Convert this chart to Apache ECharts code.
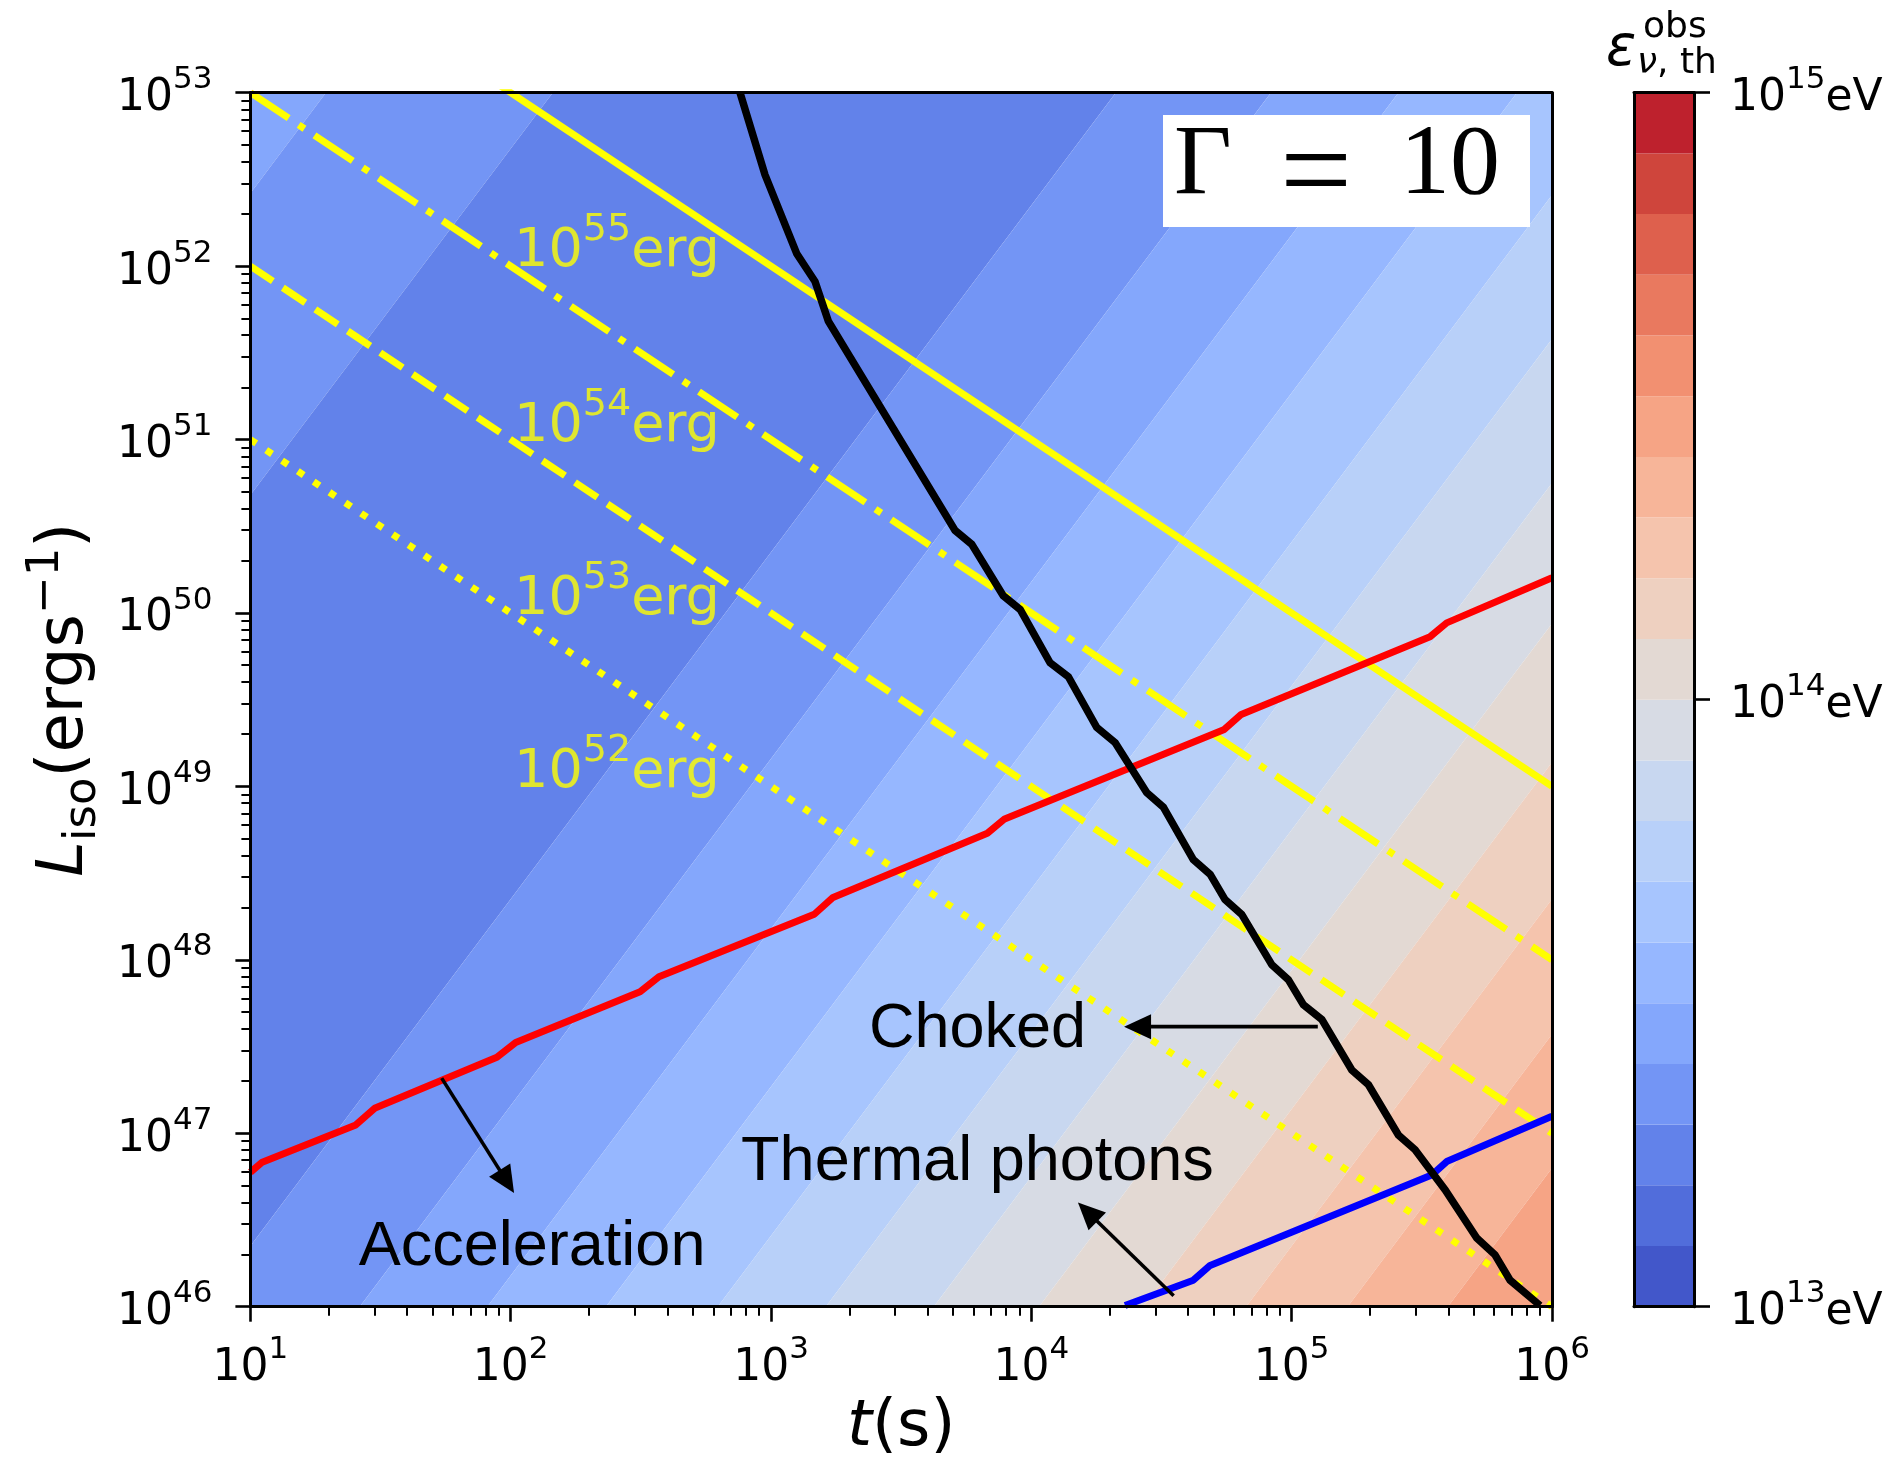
<!DOCTYPE html>
<html>
<head>
<meta charset="utf-8">
<script src="https://cdn.jsdelivr.net/npm/echarts@6/dist/echarts.min.js"></script>
<style>
  html, body { margin: 0; padding: 0; background: #ffffff; }
  #chart { width: 1897px; height: 1467px; }
</style>
</head>
<body>
<div id="chart"></div>
<script>
// ---- axis ranges ----
const tRange = [1e1, 1e6];          // t (s)
const lumRange = [1e46, 1e53];      // L_iso (erg/s)

// ---- colour scale of the threshold neutrino energy: 20 filled levels, log10(eV) ----
const levelExponents = [13.0, 13.1, 13.2, 13.3, 13.4, 13.5, 13.6, 13.7, 13.8, 13.9,
                        14.0, 14.1, 14.2, 14.3, 14.4, 14.5, 14.6, 14.7, 14.8, 14.9, 15.0];
const levelColors = ['#4257CA', '#516DDB', '#6282EA', '#7395F5', '#84A7FC',
                     '#96B7FF', '#A7C5FE', '#B8D0F9', '#C8D7F0', '#D7DBE4',
                     '#E3D9D3', '#EED0C0', '#F5C4AD', '#F7B599', '#F6A485',
                     '#F29071', '#E9795F', '#DE604D', '#CF453C', '#BE212D'];
const colorbarTicks = [13, 14, 15];

// ---- contour boundaries of the energy map: the two points where each meets the frame [t, L] ----
const contourEdges = [
  [[10, 2.63e52], [19.5, 1e53]],
  [[10, 4.79e50], [145, 1e53]],
  [[10, 2.24e46], [2.11e4, 1e53]],
  [[26.3, 1e46], [8.32e4, 1e53]],
  [[81.3, 1e46], [2.57e5, 1e53]],
  [[232, 1e46], [7.33e5, 1e53]],
  [[624, 1e46], [1e6, 2.57e52]],
  [[1622, 1e46], [1e6, 3.80e51]],
  [[4217, 1e46], [1e6, 5.62e50]],
  [[1.07e4, 1e46], [1e6, 8.71e49]],
  [[2.69e4, 1e46], [1e6, 1.38e49]],
  [[6.68e4, 1e46], [1e6, 2.24e48]],
  [[1.64e5, 1e46], [1e6, 3.72e47]],
  [[3.98e5, 1e46], [1e6, 6.31e46]]
];
// colour level of each band, from the upper-left corner to the lower-right corner
const bandLevel = [4, 3, 2, 3, 4, 5, 6, 7, 8, 9, 10, 11, 12, 13, 14];

// ---- constant-energy lines L * t = E ----
const burstEnergies = [1e55, 1e54, 1e53, 1e52];
const energyExponents = [55, 54, 53, 52];
const energyLabelT = [103, 103, 103, 103];
const energyLabelL = [1.32e52, 1.30e51, 1.30e50, 1.31e49];

// ---- acceleration limit (red) ----
const accelT = [10, 11.1, 25.4, 30.0, 88.5, 104.5, 314, 371, 1466, 1730, 6776, 7852,
                5.51e4, 6.40e4, 3.40e5, 3.94e5, 1e6];
const accelL = [5.96e46, 6.81e46, 1.117e47, 1.393e47, 2.74e47, 3.34e47, 6.55e47, 7.98e47,
                1.832e48, 2.29e48, 5.37e48, 6.46e48, 2.13e49, 2.60e49, 7.29e49, 8.77e49, 1.596e50];

// ---- choked-jet limit (black) ----
const chokedT = [760, 948, 1256, 1476, 1660, 5093, 5902, 7798, 9057, 1.180e4, 1.387e4,
                 1.782e4, 2.099e4, 2.773e4, 3.214e4, 4.188e4, 4.864e4, 5.546e4, 6.427e4,
                 8.395e4, 9.705e4, 1.109e5, 1.306e5, 1.702e5, 1.972e5, 2.570e5, 2.979e5,
                 3.882e5, 5.140e5, 6.039e5, 6.902e5, 8.995e5];
const chokedL = [1e53, 3.36e52, 1.178e52, 8.15e51, 4.82e51, 2.99e50, 2.49e50, 1.259e50,
                 1.047e50, 5.16e49, 4.29e49, 2.19e49, 1.786e49, 9.23e48, 7.60e48, 3.78e48,
                 3.11e48, 2.223e48, 1.828e48, 9.35e47, 7.69e47, 5.51e47, 4.53e47, 2.317e47,
                 1.905e47, 9.77e46, 8.04e46, 4.73e46, 2.489e46, 1.991e46, 1.422e46, 1.016e46];

// ---- thermal-photon limit (blue) ----
const thermalT = [2.29e4, 4.19e4, 4.86e4, 3.45e5, 3.94e5, 1e6];
const thermalL = [1.016e46, 1.422e46, 1.730e46, 5.74e46, 6.87e46, 1.253e47];

// ---- region labels and their arrows ----
const annotTexts = ['Choked', 'Thermal photons', 'Acceleration'];
const annotT = [6209, 6209, 120.8];
const annotL = [3.94e47, 6.75e46, 2.2e46];
const arrowTails = [[1.26e5, 4.12e47], [3.52e4, 1.156e46], [54.3, 2.08e47]];
const arrowHeads = [[2.27e4, 4.12e47], [1.51e4, 3.99e46], [103, 4.53e46]];

// ------------------------------------------------------------------
const pairs = (xs, ys) => xs.map((x, i) => [x, ys[i]]);
const exp10 = v => Math.round(Math.log10(v));

const TICK_FONT = 'DejaVu Sans';
const supRich = {
  b: { fontFamily: TICK_FONT, fontSize: 44, lineHeight: 56, verticalAlign: 'bottom', color: '#000' },
  s: { fontFamily: TICK_FONT, fontSize: 31, lineHeight: 31, verticalAlign: 'top', color: '#000' }
};

// minor log ticks (2..9 within every decade), in log10 units
function minorLogTicks(lo, hi) {
  const out = [];
  for (let d = lo; d < hi; d++) {
    for (let k = 2; k <= 9; k++) out.push(d + Math.log10(k));
  }
  return out;
}

// keep the part of a polygon where f(p) >= 0
function clipHalfPlane(poly, f) {
  const out = [];
  for (let i = 0; i < poly.length; i++) {
    const P = poly[i], Q = poly[(i + 1) % poly.length];
    const fp = f(P), fq = f(Q);
    if (fp >= 0) out.push(P);
    if ((fp >= 0) !== (fq >= 0)) {
      const s = fp / (fp - fq);
      out.push([P[0] + s * (Q[0] - P[0]), P[1] + s * (Q[1] - P[1])]);
    }
  }
  return out;
}

function sideFn(a, b, sign) {
  // sign > 0 keeps the upper-left side of the line a-b
  const far = [a[0] - 1e5, a[1] - 1e5];
  const raw = p => (b[0] - a[0]) * (p[1] - a[1]) - (b[1] - a[1]) * (p[0] - a[0]);
  const ref = raw(far) >= 0 ? 1 : -1;
  return p => raw(p) * ref * sign;
}

function renderBand(params, api) {
  const k = params.dataIndex;
  const cs = params.coordSys;
  let poly = [[cs.x, cs.y], [cs.x + cs.width, cs.y],
              [cs.x + cs.width, cs.y + cs.height], [cs.x, cs.y + cs.height]];
  if (k > 0) {
    const e = contourEdges[k - 1];
    poly = clipHalfPlane(poly, sideFn(api.coord(e[0]), api.coord(e[1]), -1));
  }
  if (k < contourEdges.length) {
    const e = contourEdges[k];
    poly = clipHalfPlane(poly, sideFn(api.coord(e[0]), api.coord(e[1]), 1));
  }
  if (poly.length < 3) return null;
  return {
    type: 'polygon',
    shape: { points: poly },
    style: { fill: levelColors[bandLevel[k]], stroke: null }
  };
}

function renderColorbar(params, api) {
  const p0 = api.coord([0, api.value(1)]);
  const p1 = api.coord([1, api.value(2)]);
  return {
    type: 'rect',
    shape: { x: p0[0], y: p1[1], width: p1[0] - p0[0], height: p0[1] - p1[1] },
    style: { fill: levelColors[params.dataIndex] }
  };
}

function renderArrow(params, api) {
  const i = params.dataIndex;
  const p0 = api.coord([api.value(0), api.value(1)]);
  const p1 = api.coord(arrowHeads[i]);
  const dx = p1[0] - p0[0], dy = p1[1] - p0[1];
  const len = Math.hypot(dx, dy);
  const ux = dx / len, uy = dy / len;
  const hl = 27, hw = 12.5;
  const base = [p1[0] - ux * hl, p1[1] - uy * hl];
  return {
    type: 'group',
    children: [
      { type: 'line', shape: { x1: p0[0], y1: p0[1], x2: base[0] + ux * 3, y2: base[1] + uy * 3 },
        style: { stroke: '#000', lineWidth: 3.6 } },
      { type: 'polygon',
        shape: { points: [p1, [base[0] - uy * hw, base[1] + ux * hw], [base[0] + uy * hw, base[1] - ux * hw]] },
        style: { fill: '#000' } }
    ]
  };
}

const energyDash = ['solid', [46, 12, 7, 12], [27, 12], [7, 12]];

const frameLine = { show: true, onZero: false, lineStyle: { color: '#000', width: 3 } };
const hidden = { show: false };

const chart = echarts.init(document.getElementById('chart'), null, { renderer: 'canvas' });

const series = [
  {
    type: 'custom', name: 'energy map', xAxisIndex: 0, yAxisIndex: 0,
    renderItem: renderBand, data: bandLevel.map(lv => [lv]), silent: true, z: 1
  }
];

burstEnergies.forEach((E, i) => {
  series.push({
    type: 'line', name: 'E' + energyExponents[i], xAxisIndex: 0, yAxisIndex: 0,
    data: [[tRange[0], E / tRange[0]], [tRange[1], E / tRange[1]]],
    showSymbol: false, symbol: 'none', clip: true, silent: true, z: 3,
    lineStyle: { color: '#FFFF00', width: 7, type: energyDash[i], cap: 'butt' }
  });
});

series.push({
  type: 'scatter', name: 'energy labels', xAxisIndex: 0, yAxisIndex: 0,
  data: energyExponents.map((ex, i) => [energyLabelT[i], energyLabelL[i], ex]),
  symbolSize: 0, silent: true, z: 6,
  label: {
    show: true, position: 'right', distance: 0, textBorderWidth: 0,
    formatter: p => '{b|10}{s|' + p.data[2] + '}{b|erg}',
    rich: {
      b: { fontFamily: TICK_FONT, fontSize: 54, lineHeight: 68, verticalAlign: 'bottom', color: '#FFFF00' },
      s: { fontFamily: TICK_FONT, fontSize: 38, lineHeight: 38, verticalAlign: 'top', color: '#FFFF00' }
    }
  }
});

series.push({
  type: 'line', name: 'acceleration', xAxisIndex: 0, yAxisIndex: 0,
  data: pairs(accelT, accelL), showSymbol: false, symbol: 'none', clip: true, silent: true, z: 4,
  lineStyle: { color: '#FF0000', width: 7 }
});
series.push({
  type: 'line', name: 'thermal', xAxisIndex: 0, yAxisIndex: 0,
  data: pairs(thermalT, thermalL), showSymbol: false, symbol: 'none', clip: true, silent: true, z: 4,
  lineStyle: { color: '#0000FF', width: 7 }
});
series.push({
  type: 'line', name: 'choked', xAxisIndex: 0, yAxisIndex: 0,
  data: pairs(chokedT, chokedL), showSymbol: false, symbol: 'none', clip: true, silent: true, z: 5,
  lineStyle: { color: '#000000', width: 7.5, join: 'miter' }
});
series.push({
  type: 'custom', name: 'arrows', xAxisIndex: 0, yAxisIndex: 0,
  renderItem: renderArrow, data: arrowTails, silent: true, z: 6
});
series.push({
  type: 'scatter', name: 'region labels', xAxisIndex: 0, yAxisIndex: 0,
  data: annotTexts.map((s, i) => [annotT[i], annotL[i], s]),
  symbolSize: 0, silent: true, z: 6,
  itemStyle: { color: '#000000' },
  label: {
    show: true, position: 'inside', formatter: p => p.data[2],
    fontFamily: 'Liberation Sans', fontSize: 63, color: '#000000',
    textBorderWidth: 0, textBorderColor: 'transparent', opacity: 1
  }
});
series.push({
  type: 'custom', name: 'colorbar', xAxisIndex: 3, yAxisIndex: 3,
  renderItem: renderColorbar,
  data: levelColors.map((c, i) => [0, Math.pow(10, levelExponents[i]), Math.pow(10, levelExponents[i + 1])]),
  encode: { x: 0, y: [1, 2] }, silent: true, z: 1
});

const option = {
  animation: false,
  backgroundColor: '#ffffff',
  grid: [
    { left: 250.4, top: 92.7, width: 1301.6, height: 1214 },
    { left: 1634, top: 92.7, width: 60, height: 1214 }
  ],
  xAxis: [
    {
      type: 'log', logBase: 10, min: tRange[0], max: tRange[1], gridIndex: 0, position: 'bottom', z: 10,
      axisLine: frameLine,
      axisTick: { show: true, inside: false, length: 15, lineStyle: { color: '#000', width: 2.6 } },
      axisLabel: { show: true, margin: 28, formatter: v => '{b|10}{s|' + exp10(v) + '}', rich: supRich },
      splitLine: hidden,
      name: '{i|t}{n|(s)}', nameLocation: 'middle', nameGap: 90,
      nameTextStyle: {
        rich: {
          i: { fontFamily: TICK_FONT, fontStyle: 'italic', fontSize: 64, color: '#000' },
          n: { fontFamily: TICK_FONT, fontSize: 64, color: '#000' }
        }
      }
    },
    {
      type: 'value', min: 1, max: 6, gridIndex: 0, position: 'bottom', z: 10,
      axisLine: { show: false, onZero: false },
      axisTick: { show: true, inside: false, length: 9, customValues: minorLogTicks(1, 6),
                  lineStyle: { color: '#000', width: 2 } },
      axisLabel: hidden, splitLine: hidden
    },
    {
      type: 'value', min: 0, max: 1, gridIndex: 0, position: 'top', z: 10,
      axisLine: frameLine, axisTick: hidden, axisLabel: hidden, splitLine: hidden
    },
    {
      type: 'value', min: 0, max: 1, gridIndex: 1, position: 'bottom', z: 10,
      axisLine: frameLine, axisTick: hidden, axisLabel: hidden, splitLine: hidden
    },
    {
      type: 'value', min: 0, max: 1, gridIndex: 1, position: 'top', z: 10,
      axisLine: frameLine, axisTick: hidden, axisLabel: hidden, splitLine: hidden
    }
  ],
  yAxis: [
    {
      type: 'log', logBase: 10, min: lumRange[0], max: lumRange[1], gridIndex: 0, position: 'left', z: 10,
      axisLine: frameLine,
      axisTick: { show: true, inside: false, length: 15, lineStyle: { color: '#000', width: 2.6 } },
      axisLabel: { show: true, margin: 38, formatter: v => '{b|10}{s|' + exp10(v) + '}', rich: supRich },
      splitLine: hidden,
      name: '{i|L}{sub|iso}{n|(ergs}{sup|\u22121}{n|)}', nameLocation: 'middle', nameGap: 141, nameRotate: 90,
      nameTextStyle: {
        rich: {
          i: { fontFamily: TICK_FONT, fontStyle: 'italic', fontSize: 64, lineHeight: 82, verticalAlign: 'middle', color: '#000' },
          n: { fontFamily: TICK_FONT, fontSize: 64, lineHeight: 82, verticalAlign: 'middle', color: '#000' },
          sub: { fontFamily: TICK_FONT, fontSize: 45, lineHeight: 45, verticalAlign: 'bottom', color: '#000' },
          sup: { fontFamily: TICK_FONT, fontSize: 45, lineHeight: 45, verticalAlign: 'top', color: '#000' }
        }
      }
    },
    {
      type: 'value', min: 46, max: 53, gridIndex: 0, position: 'left', z: 10,
      axisLine: { show: false, onZero: false },
      axisTick: { show: true, inside: false, length: 9, customValues: minorLogTicks(46, 53),
                  lineStyle: { color: '#000', width: 2 } },
      axisLabel: hidden, splitLine: hidden
    },
    {
      type: 'value', min: 0, max: 1, gridIndex: 0, position: 'right', z: 10,
      axisLine: frameLine, axisTick: hidden, axisLabel: hidden, splitLine: hidden
    },
    {
      type: 'log', logBase: 10, min: Math.pow(10, colorbarTicks[0]), max: Math.pow(10, colorbarTicks[2]),
      gridIndex: 1, position: 'right', z: 10,
      axisLine: frameLine,
      axisTick: { show: true, inside: false, length: 16, lineStyle: { color: '#000', width: 2.6 } },
      axisLabel: { show: true, margin: 36, formatter: v => '{b|10}{s|' + exp10(v) + '}{b|eV}', rich: supRich },
      splitLine: hidden
    },
    {
      type: 'value', min: 0, max: 1, gridIndex: 1, position: 'left', z: 10,
      axisLine: frameLine, axisTick: hidden, axisLabel: hidden, splitLine: hidden
    }
  ],
  graphic: [
    // Lorentz factor box
    { type: 'rect', z: 100, shape: { x: 1163, y: 115, width: 367, height: 112 }, style: { fill: '#ffffff' } },
    { type: 'text', z: 101, style: { text: '\u0393', x: 1203, y: 167, font: '100px "Liberation Serif"',
      fill: '#000', align: 'center', verticalAlign: 'middle' } },
    { type: 'text', z: 101, style: { text: '=', x: 1316, y: 178, font: '128px "Liberation Serif"',
      fill: '#000', align: 'center', verticalAlign: 'middle' } },
    { type: 'text', z: 101, style: { text: '10', x: 1450, y: 167, font: '100px "Liberation Serif"',
      fill: '#000', align: 'center', verticalAlign: 'middle' } },
    // colour bar title
    { type: 'text', z: 101, style: { text: '\u03b5', x: 1606, y: 50, font: 'italic 56px "DejaVu Sans"',
      fill: '#000', align: 'left', verticalAlign: 'middle' } },
    { type: 'text', z: 101, style: { text: 'obs', x: 1643, y: 28, font: '36px "DejaVu Sans"',
      fill: '#000', align: 'left', verticalAlign: 'middle' } },
    { type: 'text', z: 101, style: { text: '{i|\u03bd}{n|, th}', x: 1637, y: 64,
      rich: { i: { fontFamily: 'DejaVu Sans', fontStyle: 'italic', fontSize: 36, fill: '#000' },
              n: { fontFamily: 'DejaVu Sans', fontSize: 36, fill: '#000' } },
      fill: '#000', align: 'left', verticalAlign: 'middle' } }
  ],
  series: series
};

chart.setOption(option);
</script>
</body>
</html>
